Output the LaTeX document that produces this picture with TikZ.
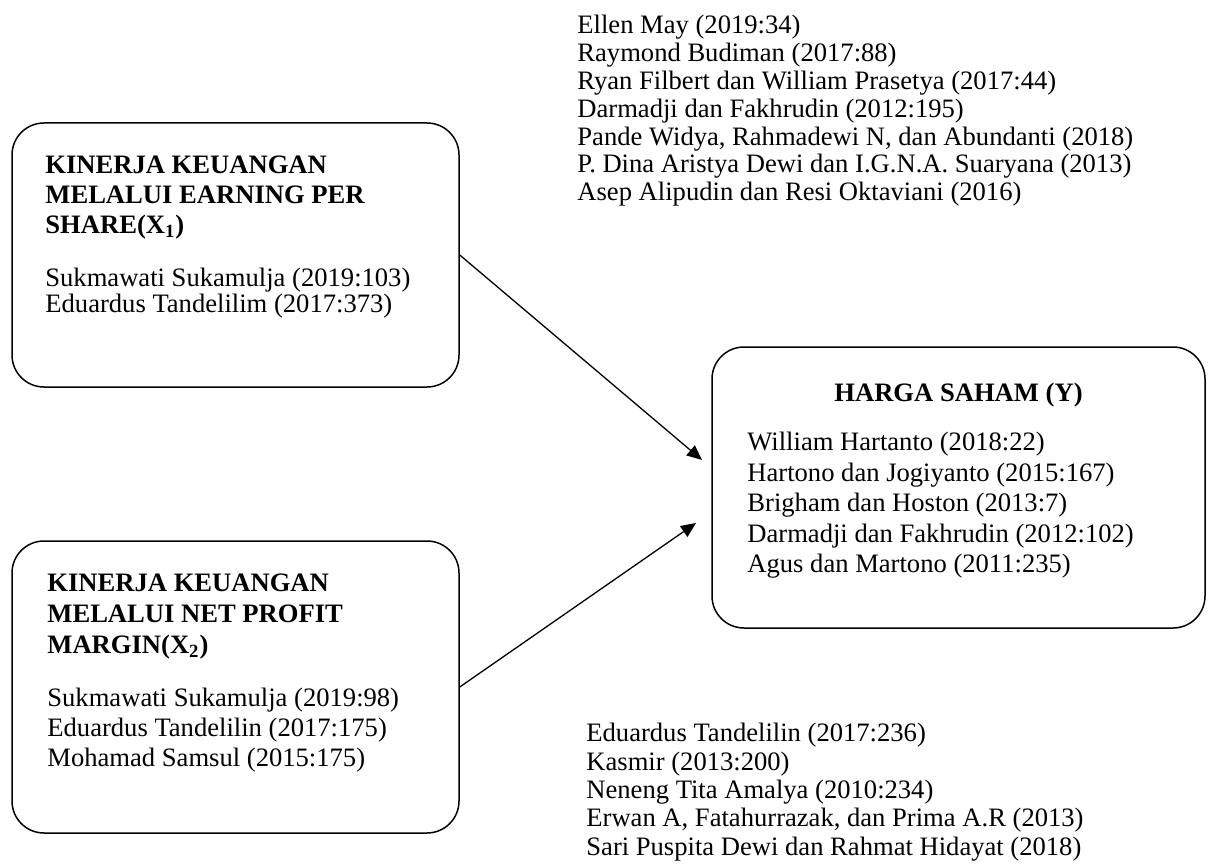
\documentclass[tikz,border=0pt]{standalone}
\usepackage{fontspec}
\setmainfont{Liberation Serif}
\usetikzlibrary{fit,arrows.meta}
\newcommand{\tnr}[1]{\fontsize{13.3}{#1}\selectfont}

\begin{document}
\begin{tikzpicture}[x=0.5pt,y=0.5pt,yscale=-1,xscale=1,
    roundbox/.style={draw, line width=0.75pt, rounded corners=16pt, inner sep=0pt},
    conn/.style={line width=0.65pt, -{Triangle[length=7.5pt,width=6.5pt]}}]
        %set diagram left start at 0, and has height of 866
        \useasboundingbox (0,0) rectangle (1210,866);

        %Shape: Rounded Rect [id:eps]
        \node [roundbox, fit={(12,123) (459,387)}] (eps) {};
        %Shape: Rounded Rect [id:npm]
        \node [roundbox, fit={(12,541) (459,833)}] (npm) {};
        %Shape: Rounded Rect [id:harga]
        \node [roundbox, fit={(712,347) (1205,628)}] (harga) {};

        % Text Node
        \draw (577,15) node (refAtas) [anchor=north west][inner sep=0pt][align=left, font=\tnr{13.9pt}] {Ellen May (2019:34)\\Raymond Budiman (2017:88)\\Ryan Filbert dan William Prasetya (2017:44)\\Darmadji dan Fakhrudin (2012:195)\\Pande Widya, Rahmadewi N, dan Abundanti (2018)\\P. Dina Aristya Dewi dan I.G.N.A. Suaryana (2013)\\Asep Alipudin dan Resi Oktaviani (2016)};
        % Text Node
        \draw (45,155) node (epsJudul) [anchor=north west][inner sep=0pt][align=left, font=\tnr{15pt}\bfseries] {KINERJA KEUANGAN\\MELALUI EARNING PER\\SHARE(X\textsubscript{1})};
        % Text Node
        \draw (45,268) node (epsRef) [anchor=north west][inner sep=0pt][align=left, font=\tnr{13pt}] {Sukmawati Sukamulja (2019:103)\\Eduardus Tandelilim (2017:373)};
        % Text Node
        \draw (47,573) node (npmJudul) [anchor=north west][inner sep=0pt][align=left, font=\tnr{15.5pt}\bfseries] {KINERJA KEUANGAN\\MELALUI NET PROFIT\\MARGIN(X\textsubscript{2})};
        % Text Node
        \draw (47,688) node (npmRef) [anchor=north west][inner sep=0pt][align=left, font=\tnr{15pt}] {Sukmawati Sukamulja (2019:98)\\Eduardus Tandelilin (2017:175)\\Mohamad Samsul (2015:175)};
        % Text Node
        \draw (958.5,383) node (hargaJudul) [anchor=north][inner sep=0pt][font=\tnr{15pt}\bfseries] {HARGA SAHAM (Y)};
        % Text Node
        \draw (747,432) node (hargaRef) [anchor=north west][inner sep=0pt][align=left, font=\tnr{15.25pt}] {William Hartanto (2018:22)\\Hartono dan Jogiyanto (2015:167)\\Brigham dan Hoston (2013:7)\\Darmadji dan Fakhrudin (2012:102)\\Agus dan Martono (2011:235)};
        % Text Node
        \draw (586,723) node (refBawah) [anchor=north west][inner sep=0pt][align=left, font=\tnr{14.15pt}] {Eduardus Tandelilin (2017:236)\\Kasmir (2013:200)\\Neneng Tita Amalya (2010:234)\\Erwan A, Fatahurrazak, dan Prima A.R (2013)\\Sari Puspita Dewi dan Rahmat Hidayat (2018)};

        %Straight Lines [id:arrows]
        \coordinate (ujungA) at (702,460);
        \coordinate (ujungB) at (696,523);
        \draw [conn] (eps.east) -- (ujungA);
        \draw [conn] (npm.east) -- (ujungB);

\end{tikzpicture}
\end{document}
